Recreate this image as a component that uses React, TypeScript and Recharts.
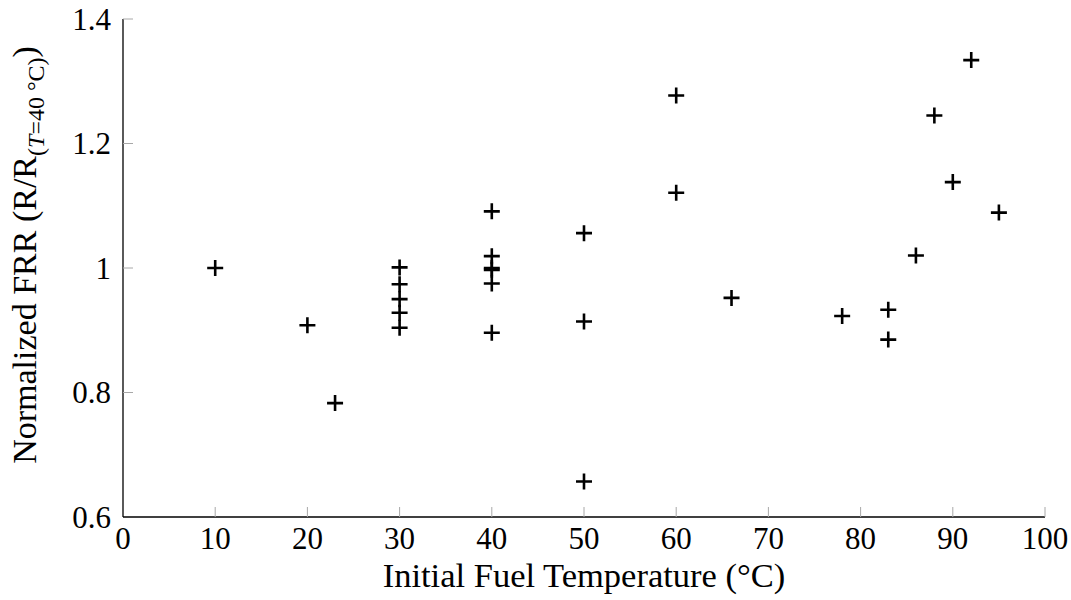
import { ScatterChart, Scatter, XAxis, YAxis, Label } from "recharts";

// ─── data ────────────────────────────────────────────────────────────────────

const temperatures = [
  10, 20, 23,
  30, 30, 30, 30, 30,
  40, 40, 40, 40, 40, 40,
  50, 50, 50,
  60, 60, 66, 78, 83, 83, 86, 88, 90, 92, 95,
];

const normalizedFrr = [
  1.0, 0.908, 0.783,
  1.001, 0.974, 0.95, 0.928, 0.904,
  1.091, 1.019, 1.0, 0.997, 0.975, 0.896,
  1.056, 0.914, 0.657,
  1.277, 1.121, 0.952, 0.923, 0.933, 0.885, 1.02, 1.245, 1.138, 1.334, 1.089,
];

const xTicks = [0, 10, 20, 30, 40, 50, 60, 70, 80, 90, 100];
const yTicks = [0.6, 0.8, 1, 1.2, 1.4];

const data = temperatures.map((t, i) => ({ temp: t, frr: normalizedFrr[i] }));

const FONT = "'Liberation Serif', 'Times New Roman', Times, serif";
const TICK_GRAY = "#a8a8a8";
const TICK_LEN = 10;

// ─── custom pieces ───────────────────────────────────────────────────────────

function PlusMark(props: any) {
  const { cx, cy } = props;
  if (cx == null || cy == null) return null;
  const s = 8;
  return (
    <path
      d={`M${cx - s},${cy}H${cx + s}M${cx},${cy - s}V${cy + s}`}
      stroke="#000"
      strokeWidth={2.6}
      fill="none"
    />
  );
}

function XTick(props: any) {
  const { x, y, payload, index } = props;
  const axisY = y - 10;
  return (
    <g>
      {index > 0 && (
        <line x1={x} x2={x} y1={axisY} y2={axisY - TICK_LEN} stroke={TICK_GRAY} strokeWidth={1} />
      )}
      <text x={x} y={y} dy="0.71em" textAnchor="middle" style={{ fontFamily: FONT, fontSize: 31 }} fill="#000">
        {payload.value}
      </text>
    </g>
  );
}

function YTick(props: any) {
  const { x, y, payload, index } = props;
  const axisX = x + 12;
  return (
    <g>
      {index > 0 && (
        <line x1={axisX} x2={axisX + TICK_LEN} y1={y} y2={y} stroke={TICK_GRAY} strokeWidth={1} />
      )}
      <text x={x} y={y} dy="0.34em" textAnchor="end" style={{ fontFamily: FONT, fontSize: 31 }} fill="#000">
        {String(payload.value)}
      </text>
    </g>
  );
}

function XLabel(props: any) {
  const { x, y, width } = props.viewBox;
  return (
    <text x={x + width / 2} y={y + 70} textAnchor="middle" style={{ fontFamily: FONT, fontSize: 34.5 }} fill="#000">
      Initial Fuel Temperature (°C)
    </text>
  );
}

function YLabel(props: any) {
  const { y, height } = props.viewBox;
  const lx = 36;
  const ly = y + height / 2 - 13;
  return (
    <text
      x={lx}
      y={ly}
      transform={`rotate(-90, ${lx}, ${ly})`}
      textAnchor="middle"
      style={{ fontFamily: FONT, fontSize: 34 }}
      fill="#000"
    >
      <tspan>Normalized FRR (R/R</tspan>
      <tspan style={{ fontSize: 24 }} dy={8}>
        (<tspan fontStyle="italic">T</tspan>=40 °C)
      </tspan>
      <tspan dy={-8}>)</tspan>
    </text>
  );
}

// ─── chart ───────────────────────────────────────────────────────────────────

export default function App() {
  return (
    <div style={{ position: "absolute", left: 0, top: 0, width: 1071, height: 600, background: "#fff" }}>
      <ScatterChart width={1071} height={600} margin={{ top: 19, right: 26, bottom: 23, left: 43 }}>
        <XAxis
          type="number"
          dataKey="temp"
          domain={[0, 100]}
          ticks={xTicks}
          interval={0}
          height={60}
          tickSize={0}
          tickMargin={10}
          tickLine={false}
          tick={<XTick />}
          axisLine={{ stroke: "#000", strokeWidth: 1.3 }}
        >
          <Label content={<XLabel />} />
        </XAxis>
        <YAxis
          type="number"
          dataKey="frr"
          domain={[0.6, 1.4]}
          ticks={yTicks}
          interval={0}
          width={80}
          tickSize={0}
          tickMargin={12}
          tickLine={false}
          tick={<YTick />}
          axisLine={{ stroke: "#000", strokeWidth: 1.3 }}
        >
          <Label content={<YLabel />} />
        </YAxis>
        <Scatter data={data} shape={<PlusMark />} isAnimationActive={false} />
      </ScatterChart>
    </div>
  );
}
